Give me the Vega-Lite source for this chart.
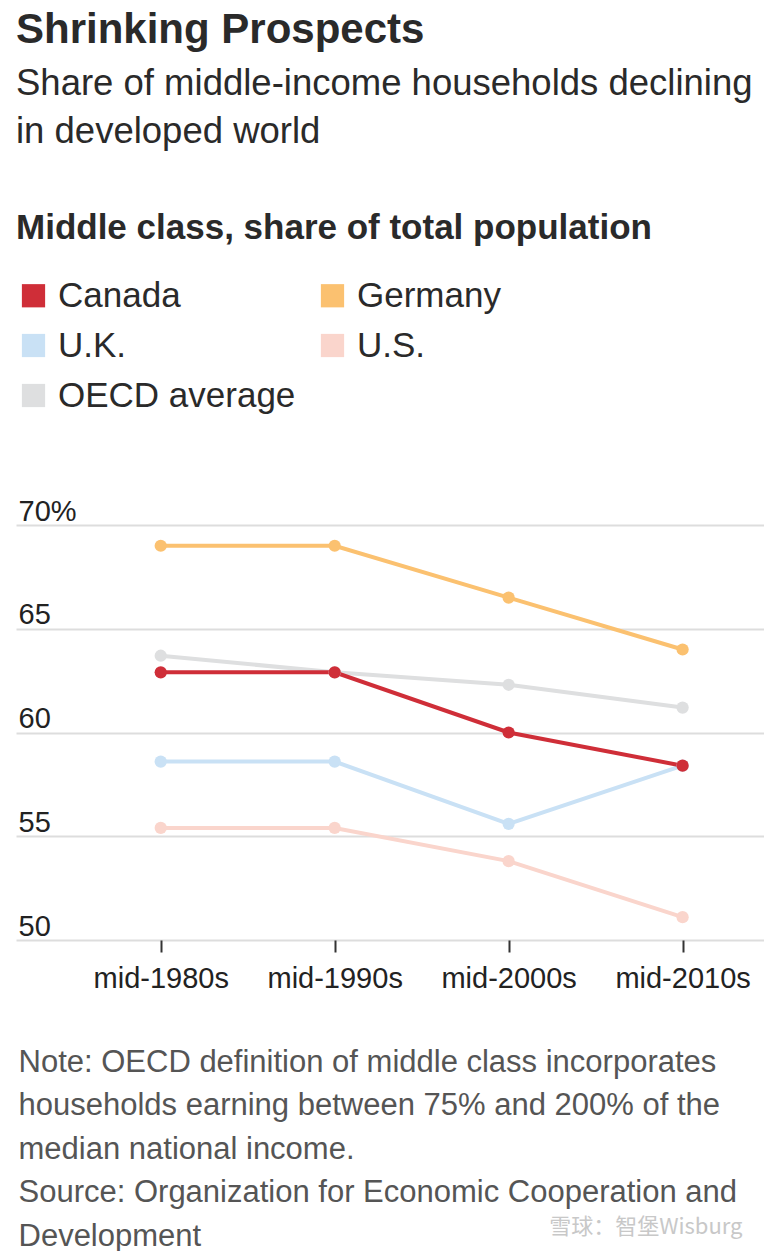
{
  "$schema": "https://vega.github.io/schema/vega-lite/v6.json",
  "width": 748,
  "height": 415,
  "padding": {"left": 16, "right": 0, "top": 8, "bottom": 0},
  "background": "white",
  "title": {
    "text": "Shrinking Prospects",
    "subtitle": ["Share of middle-income households declining", "in developed world"],
    "anchor": "start",
    "frame": "group",
    "font": "Liberation Sans",
    "fontSize": 42,
    "fontWeight": "bold",
    "color": "#2a2a2a",
    "subtitleFont": "Liberation Sans",
    "subtitleFontSize": 36.5,
    "subtitleColor": "#2a2a2a",
    "subtitleLineHeight": 48,
    "subtitlePadding": 14,
    "offset": 60
  },
  "data": {
    "values": [
      {"period": "mid-1980s", "country": "OECD average", "share": 63.7},
      {"period": "mid-1990s", "country": "OECD average", "share": 62.9},
      {"period": "mid-2000s", "country": "OECD average", "share": 62.3},
      {"period": "mid-2010s", "country": "OECD average", "share": 61.2},
      {"period": "mid-1980s", "country": "U.S.", "share": 55.4},
      {"period": "mid-1990s", "country": "U.S.", "share": 55.4},
      {"period": "mid-2000s", "country": "U.S.", "share": 53.8},
      {"period": "mid-2010s", "country": "U.S.", "share": 51.1},
      {"period": "mid-1980s", "country": "U.K.", "share": 58.6},
      {"period": "mid-1990s", "country": "U.K.", "share": 58.6},
      {"period": "mid-2000s", "country": "U.K.", "share": 55.6},
      {"period": "mid-2010s", "country": "U.K.", "share": 58.4},
      {"period": "mid-1980s", "country": "Germany", "share": 69.0},
      {"period": "mid-1990s", "country": "Germany", "share": 69.0},
      {"period": "mid-2000s", "country": "Germany", "share": 66.5},
      {"period": "mid-2010s", "country": "Germany", "share": 64.0},
      {"period": "mid-1980s", "country": "Canada", "share": 62.9},
      {"period": "mid-1990s", "country": "Canada", "share": 62.9},
      {"period": "mid-2000s", "country": "Canada", "share": 60.0},
      {"period": "mid-2010s", "country": "Canada", "share": 58.4}
    ]
  },
  "mark": {"type": "line", "strokeWidth": 4, "point": {"filled": true, "size": 150, "opacity": 1}},
  "encoding": {
    "x": {
      "field": "period",
      "type": "ordinal",
      "sort": null,
      "scale": {"type": "point", "padding": 0.65, "align": 0.64},
      "axis": {
        "title": [
          "Note: OECD definition of middle class incorporates",
          "households earning between 75% and 200% of the",
          "median national income.",
          "Source: Organization for Economic Cooperation and",
          "Development"
        ],
        "titleFont": "Liberation Sans",
        "titleFontSize": 31,
        "titleFontWeight": "normal",
        "titleColor": "#555555",
        "titleLineHeight": 43.5,
        "titleAnchor": "start",
        "titleAlign": "left",
        "titleBaseline": "alphabetic",
        "titleX": 2,
        "titleY": 131,
        "labelAngle": 0,
        "labelFont": "Liberation Sans",
        "labelFontSize": 29,
        "labelColor": "#222222",
        "labelPadding": 12,
        "domain": false,
        "ticks": true,
        "tickSize": 12,
        "tickWidth": 2,
        "tickColor": "#333333",
        "grid": false
      }
    },
    "y": {
      "field": "share",
      "type": "quantitative",
      "scale": {"domain": [50, 70], "nice": false, "zero": false},
      "axis": {
        "values": [50, 55, 60, 65, 70],
        "grid": true,
        "gridColor": "#dddddd",
        "gridWidth": 2,
        "domain": false,
        "ticks": false,
        "labelAlign": "left",
        "labelBaseline": "alphabetic",
        "labelPadding": -2,
        "labelOffset": -5,
        "labelFont": "Liberation Sans",
        "labelFontSize": 29,
        "labelColor": "#222222",
        "labelExpr": "datum.value == 70 ? '70%' : datum.label",
        "title": "雪球：智堡Wisburg",
        "titleAngle": 0,
        "titleX": 726,
        "titleY": 708,
        "titleAlign": "right",
        "titleBaseline": "alphabetic",
        "titleFont": "Noto Sans CJK SC",
        "titleFontSize": 22,
        "titleFontWeight": "normal",
        "titleColor": "#c8c8c8"
      }
    },
    "color": {
      "field": "country",
      "type": "nominal",
      "scale": {
        "domain": ["Canada", "Germany", "U.K.", "U.S.", "OECD average"],
        "range": ["#cf2e38", "#fbc170", "#c9e1f5", "#fad5cc", "#dedfe0"]
      },
      "legend": {
        "orient": "top",
        "direction": "horizontal",
        "columns": 2,
        "title": "Middle class, share of total population",
        "titleFont": "Liberation Sans",
        "titleFontSize": 35,
        "titleFontWeight": "bold",
        "titleColor": "#2a2a2a",
        "titleLimit": 760,
        "titlePadding": 32,
        "labelFont": "Liberation Sans",
        "labelFontSize": 35,
        "labelColor": "#2a2a2a",
        "labelLimit": 400,
        "labelOffset": 7,
        "symbolType": "square",
        "symbolSize": 540,
        "symbolStrokeWidth": 0,
        "rowPadding": 14,
        "columnPadding": 19,
        "padding": 0,
        "offset": 111,
        "encode": {
          "symbols": {
            "update": {
              "fill": {"scale": "color", "field": "value"},
              "stroke": {"value": "transparent"},
              "opacity": {"value": 1}
            }
          }
        }
      }
    }
  },
  "config": {"view": {"stroke": null}}
}
